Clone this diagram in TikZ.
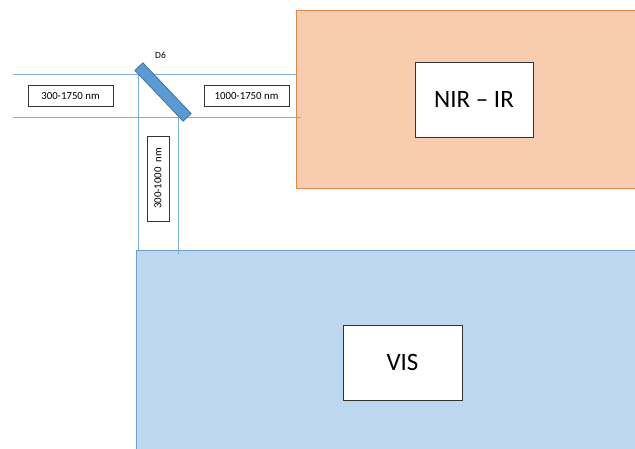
\documentclass[tikz,border=0pt]{standalone}
\usepackage{fontspec}
\setmainfont{Carlito}
\definecolor{orfill}{HTML}{F8CDAF}
\definecolor{ordraw}{HTML}{E0874F}
\definecolor{blfill}{HTML}{BDD7EE}
\definecolor{bldraw}{HTML}{6F9ECF}
\definecolor{beam}{HTML}{7AAFE0}
\definecolor{mirfill}{HTML}{5B9BD5}
\definecolor{mirdraw}{HTML}{41719C}
\begin{document}
\begin{tikzpicture}[x=1pt,y=-1pt,
  region/.style={inner sep=0pt, outer sep=0pt},
  detector/.style={draw=black!80, fill=white, line width=0.9pt, inner sep=0pt, outer sep=0pt, font=\fontsize{25}{28}\selectfont},
  label/.style={draw=black!80, fill=white, line width=0.8pt, inner sep=0pt, outer sep=0pt, font=\fontsize{10.8}{12}\selectfont},
  ray/.style={draw=beam, line width=0.8pt}]
\useasboundingbox (0,0) rectangle (635,448);
% regions
\fill[orfill] (296,10) rectangle (636,188);
\draw[ordraw, line width=0.9pt] (636,10) -- (296.5,10) -- (296.5,188) -- (636,188);
\node[region, minimum width=340pt, minimum height=178pt] (nirreg) at (466,99) {};
\fill[blfill] (136,250) rectangle (636,449);
\draw[bldraw, line width=1pt] (636,250.5) -- (136.5,250.5) -- (136.5,449);
\node[region, minimum width=500pt, minimum height=198pt] (visreg) at (386,349) {};
% detectors
\node[detector, minimum width=118pt, minimum height=75pt] (nir) at (474,99.5) {NIR -- IR};
\node[detector, minimum width=119pt, minimum height=75pt] (vis) at (402.5,362.5) {VIS};
% beam lines
\coordinate (a1) at (13,74.5);
\coordinate (a2) at (296,74.5);
\coordinate (b1) at (13,117);
\coordinate (b2) at (301,117);
\coordinate (c1) at (138,74.5);
\coordinate (c2) at (138,250);
\coordinate (d1) at (178,117);
\coordinate (d2) at (178,254);
\draw[ray] (a1) -- (a2);
\draw[ray] (b1) -- (b2);
\draw[ray] (c1) -- (c2);
\draw[ray] (d1) -- (d2);
% mirror
\node[draw=mirdraw, fill=mirfill, line width=0.8pt, minimum width=70pt, minimum height=11pt, inner sep=0pt, rotate=-46.5] (d6) at (163,92) {};
\node[font=\fontsize{9.5}{10}\selectfont, inner sep=0pt] (d6lab) at (160.5,55.5) {D6};
% labels
\node[label, minimum width=85pt, minimum height=21pt] (in) at (70.5,96) {300-1750 nm};
\node[label, minimum width=85pt, minimum height=21pt] (out) at (246.5,96) {1000-1750 nm};
\node[label, minimum width=85pt, minimum height=22pt, rotate=90] (down) at (158,178.5) {300-1000\ \ nm};
\end{tikzpicture}
\end{document}
